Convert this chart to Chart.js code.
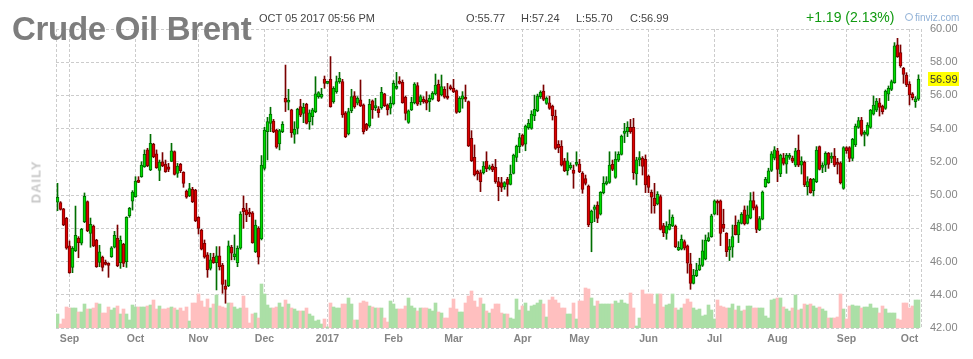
<!DOCTYPE html>
<html>
<head>
<meta charset="utf-8">
<title>Crude Oil Brent</title>
<script src="https://cdn.jsdelivr.net/npm/chart.js@4.4.0/dist/chart.umd.min.js"></script>
<style>
    body { margin: 0; background: #fff; }
    #wrap { position: relative; width: 973px; height: 359px; font-family: 'Liberation Sans', Arial, sans-serif; }
    #chart { position: absolute; left: 0; top: 0; }
    .lbl { position: absolute; white-space: nowrap; line-height: 1; z-index: 2; }
    .title { left: 12px; top: 11.5px; font-size: 33px; font-weight: bold; letter-spacing: -0.3px; color: #7d7d7d; line-height: 33px; }
    .info { top: 13px; font-size: 11px; color: #444; line-height: 11px; }
    .chg { left: 806px; top: 10px; font-size: 14px; color: #119a11; line-height: 14px; }
    .logo { left: 905px; top: 13px; font-size: 10px; color: #8fb0d6; line-height: 10px; }
    .logo span { display: inline-block; width: 6px; height: 6px; border: 1px solid #8fb0d6; border-radius: 50%; margin-right: 2px; vertical-align: 0px; }
    .daily { left: 36px; top: 182px; font-size: 13px; font-weight: bold; color: #c8c8c8; letter-spacing: 1px;
             transform: translate(-50%, -50%) rotate(-90deg); }
</style>
</head>
<body>
<div id="wrap">
    <canvas id="chart" width="973" height="359"></canvas>
    <div class="lbl title">Crude Oil Brent</div>
    <div class="lbl info" style="left:259px">OCT 05 2017 05:56 PM</div>
    <div class="lbl info" style="left:466px">O:55.77</div>
    <div class="lbl info" style="left:521px">H:57.24</div>
    <div class="lbl info" style="left:576px">L:55.70</div>
    <div class="lbl info" style="left:630px">C:56.99</div>
    <div class="lbl chg">+1.19 (2.13%)</div>
    <div class="lbl logo"><span></span>finviz.com</div>
    <div class="lbl daily">DAILY</div>
</div>
<script>
// daily candles, Aug 26 2016 .. Oct 05 2017 (one entry per session)
const opens = [
    49.57,49.55,49.18,48.60,46.94,45.65,46.66,47.40,47.10,48.40,49.61,47.70,
    48.14,47.30,45.95,46.27,45.95,45.85,46.29,46.86,47.40,45.93,47.04,45.99,
    48.76,49.63,49.91,50.91,51.11,51.71,52.72,51.51,53.06,52.48,51.49,52.01,
    51.87,51.71,52.03,52.62,51.31,51.85,51.37,50.25,49.95,50.35,50.31,48.66,
    47.90,47.10,46.40,45.59,46.26,45.93,46.34,45.79,44.53,44.55,46.86,46.30,
    45.93,46.80,49.21,49.11,48.96,48.94,46.60,48.00,47.36,51.61,53.82,54.32,
    54.46,53.92,53.08,53.82,55.83,55.59,55.13,53.66,54.02,55.33,54.92,55.47,
    54.42,54.72,55.03,55.93,55.89,56.99,56.73,56.97,55.63,56.23,56.83,56.83,
    54.96,53.68,55.09,55.97,55.53,55.73,55.43,54.26,54.16,55.67,55.27,55.19,
    55.27,56.09,55.43,55.23,55.49,56.43,56.87,56.79,55.89,54.38,55.13,55.57,
    56.59,55.63,55.77,55.73,55.63,55.77,56.09,56.67,56.03,56.37,55.89,56.49,
    56.43,56.29,55.03,55.77,55.89,55.63,53.42,52.28,51.45,51.35,51.35,52.05,
    51.57,51.75,51.67,50.81,50.75,50.51,50.95,50.65,51.31,52.27,52.91,53.62,
    53.07,54.06,54.02,54.76,55.08,55.92,56.27,55.52,55.56,55.36,54.76,53.05,
    52.95,52.07,51.47,51.65,51.51,51.85,51.87,51.31,50.99,50.55,48.34,49.14,
    49.40,48.86,50.15,50.67,50.77,51.85,51.07,52.11,52.45,53.72,53.82,54.08,
    54.08,51.28,52.12,52.22,52.16,51.15,50.17,49.81,49.47,49.91,48.16,47.70,
    47.94,48.14,48.14,46.70,46.74,47.20,46.94,45.86,44.69,45.15,45.49,45.76,
    46.14,47.26,47.50,48.85,49.57,49.65,48.24,47.70,46.70,46.86,48.18,47.60,
    48.30,49.11,48.30,48.61,49.67,49.31,47.90,48.55,50.51,50.75,51.48,52.22,
    52.66,51.27,52.25,51.87,52.27,52.23,51.81,52.71,51.81,51.97,50.51,50.95,
    50.27,50.81,52.92,51.67,51.81,52.51,52.21,52.35,51.97,51.95,50.41,52.86,
    52.86,52.21,53.02,54.08,54.52,53.66,53.66,54.08,54.88,55.12,55.56,55.36,
    55.22,56.07,56.37,56.77,59.04,58.58,57.63,57.23,56.69,56.09,55.62,55.77
];
const highs = [
    50.71,49.61,49.20,48.66,47.24,46.90,49.34,47.50,48.00,50.13,49.65,48.62,
    48.20,47.34,46.98,46.33,46.09,45.93,46.90,47.82,48.20,47.54,47.10,48.70,
    49.26,50.27,51.11,51.11,52.01,52.72,52.82,53.66,53.12,52.72,52.11,52.56,
    52.11,51.91,53.12,52.66,51.91,51.91,51.41,50.31,50.71,50.47,50.35,48.70,
    47.94,47.30,46.54,46.50,46.50,46.90,46.90,45.89,44.89,47.24,46.98,47.60,
    46.94,49.00,49.95,49.51,49.21,49.01,48.50,48.10,52.38,54.08,54.68,55.29,
    54.56,53.96,53.96,54.42,57.83,56.37,55.17,54.42,55.23,55.77,55.53,55.53,
    55.13,55.23,57.13,56.23,56.43,57.17,56.85,58.34,56.53,57.17,57.39,56.97,
    55.03,55.23,56.37,56.23,55.93,56.93,55.49,54.32,55.77,55.73,55.83,55.33,
    56.49,56.13,55.49,55.93,56.89,57.39,57.13,56.93,55.97,55.13,55.89,56.77,
    56.77,56.03,55.93,56.23,56.03,56.23,57.29,56.93,57.23,56.53,56.73,56.63,
    56.97,56.33,55.93,56.23,56.63,55.67,53.88,53.02,51.51,51.51,52.01,52.61,
    51.81,51.87,52.15,51.07,51.07,50.81,51.07,51.81,52.47,53.01,53.72,53.68,
    54.22,54.56,55.08,56.02,56.08,56.28,56.63,55.92,55.96,55.42,55.12,53.28,
    53.28,52.21,52.55,51.95,51.81,52.61,52.15,51.41,51.21,50.61,49.10,49.40,
    49.60,50.21,51.11,51.11,52.61,52.11,52.61,52.61,53.62,54.32,54.42,54.56,
    54.62,52.28,52.62,52.32,52.42,51.21,50.31,50.71,50.21,50.01,48.30,48.40,
    49.11,48.81,48.20,47.20,47.60,47.30,47.00,46.50,45.53,45.90,46.20,47.30,
    47.60,47.74,48.85,49.71,49.71,49.71,49.15,47.74,47.34,48.20,48.75,48.50,
    48.95,49.35,49.35,50.15,50.19,49.41,48.71,50.25,51.07,51.62,52.62,52.92,
    52.82,52.47,52.51,52.51,52.51,52.35,52.82,53.62,52.31,52.05,51.11,51.01,
    51.01,52.92,52.96,51.95,52.61,52.57,52.55,52.81,52.21,52.01,52.92,52.92,
    52.92,53.42,54.28,54.68,54.68,53.88,54.36,55.16,55.97,55.82,55.82,55.42,
    56.33,56.57,56.93,59.18,59.44,59.04,57.69,57.37,56.83,56.17,55.93,57.24
];
const lows = [
    49.06,49.10,48.16,46.74,45.29,45.33,46.60,46.23,47.00,48.34,47.80,46.86,
    46.90,45.65,45.69,45.43,45.79,45.05,46.25,46.82,45.69,45.59,45.69,45.65,
    48.66,49.10,49.87,50.75,51.07,51.67,51.71,51.47,52.25,51.61,50.87,51.71,
    51.37,51.41,52.01,51.21,51.07,51.35,50.47,49.81,49.91,49.55,48.40,47.66,
    46.70,46.20,45.05,45.49,45.89,44.29,45.49,44.09,43.49,44.49,46.10,46.10,
    45.69,46.74,48.00,48.40,48.70,47.10,46.54,45.85,47.30,51.51,52.12,53.82,
    53.76,52.82,52.72,53.76,55.03,55.13,53.48,53.12,53.68,54.72,54.36,54.28,
    53.96,54.22,54.96,55.83,55.83,56.43,56.70,55.29,55.53,56.13,56.73,54.68,
    53.46,53.62,54.96,55.23,55.43,55.33,53.68,53.88,54.08,54.62,55.09,54.68,
    55.17,55.33,54.82,54.88,55.43,56.37,56.69,55.53,54.52,54.32,55.09,55.49,
    55.39,55.43,55.53,55.13,55.03,55.73,56.03,55.63,55.97,55.83,55.77,56.33,
    56.17,54.92,54.96,55.23,55.63,52.92,52.02,51.15,50.91,50.21,51.27,51.41,
    51.51,51.41,50.71,49.66,50.21,50.35,49.94,50.61,51.27,52.01,52.55,52.95,
    52.67,53.96,53.96,54.48,55.02,55.82,55.68,55.46,55.16,54.52,52.75,52.55,
    51.75,51.41,51.21,51.55,50.41,51.75,51.35,50.11,50.61,48.10,46.59,48.40,
    48.34,48.80,50.07,50.61,50.71,51.47,51.01,52.01,52.41,53.16,53.52,53.72,
    50.95,50.61,51.76,51.21,50.15,50.15,48.91,48.91,49.41,47.90,47.50,47.34,
    47.90,48.10,46.84,46.66,46.70,46.70,45.30,44.33,44.65,45.09,45.46,45.70,
    46.10,47.20,47.46,48.81,48.81,46.96,47.80,46.30,46.06,46.26,47.60,47.14,
    48.26,48.20,48.26,48.57,49.11,47.74,47.86,48.51,50.47,50.71,51.42,52.12,
    50.81,51.11,51.81,51.31,52.15,51.95,51.71,51.71,51.27,50.51,50.01,50.11,
    49.95,50.75,51.51,51.35,51.41,51.61,51.95,51.71,51.27,50.67,50.35,52.51,
    52.01,52.07,52.92,54.02,53.56,52.96,53.56,54.02,54.82,55.02,54.76,54.88,
    55.16,55.69,56.29,56.73,58.29,57.69,56.73,56.53,55.43,55.73,55.28,55.70
];
const closes = [
    49.87,49.14,48.20,46.80,45.33,46.80,47.58,47.14,47.94,49.93,47.86,48.24,
    46.94,45.69,46.58,45.65,45.83,45.77,46.82,47.58,45.75,47.30,45.89,48.66,
    49.20,50.19,50.85,50.77,51.81,52.45,51.77,53.12,52.31,51.65,51.99,51.75,
    51.41,51.55,52.66,51.25,51.75,51.47,50.71,49.87,50.39,49.61,48.46,48.00,
    46.74,46.26,45.49,46.10,45.93,46.34,45.69,44.63,44.33,46.94,46.50,46.46,
    46.80,48.86,49.01,48.80,48.86,47.14,48.20,46.26,51.81,53.92,54.42,54.88,
    53.82,52.88,53.88,54.26,55.59,55.67,53.76,53.96,55.17,54.82,55.29,54.32,
    54.96,55.13,56.09,56.17,56.07,56.73,56.81,55.33,56.43,56.83,57.03,54.83,
    53.52,55.03,55.93,55.33,55.83,55.37,53.82,53.96,55.47,55.13,55.39,54.96,
    56.19,55.39,55.13,55.53,56.73,56.53,56.73,55.57,54.92,55.07,55.59,56.69,
    55.47,55.93,55.63,55.53,55.83,56.13,56.63,55.69,56.53,55.89,55.83,56.41,
    56.23,54.98,55.83,55.97,55.77,52.96,52.08,51.21,51.27,50.81,51.75,51.57,
    51.71,51.51,50.81,50.51,50.47,50.75,50.65,51.25,52.41,52.95,53.47,53.01,
    54.16,54.32,54.88,55.16,55.96,56.18,55.76,55.82,55.22,54.78,52.81,52.85,
    51.81,51.47,52.07,51.81,51.31,51.97,51.41,50.35,50.71,48.20,49.04,49.30,
    48.60,50.17,50.71,50.81,51.81,51.55,52.15,52.45,53.56,53.86,54.08,53.82,
    51.35,52.12,52.26,51.72,50.61,50.47,49.87,49.37,50.05,47.94,47.74,48.14,
    48.24,48.67,46.90,46.86,47.34,46.80,45.90,44.69,45.19,45.49,45.80,46.64,
    47.30,47.44,48.75,49.65,49.51,47.70,48.00,46.60,46.90,47.50,47.62,48.38,
    48.85,48.26,48.81,49.67,49.21,47.94,48.59,50.19,50.95,51.46,52.48,52.72,
    51.55,52.41,51.91,52.39,52.39,52.05,52.67,51.81,52.05,50.61,50.81,50.15,
    50.95,52.71,51.55,51.81,52.51,51.85,52.35,51.81,51.85,50.75,52.86,52.68,
    52.21,53.36,54.16,54.48,53.66,53.78,54.22,55.12,55.42,55.66,55.28,55.02,
    56.27,56.43,56.83,58.98,58.33,57.77,57.27,56.63,56.03,55.87,55.80,56.99
];
// volume, thousand contracts
const volumes = [
    140,40,90,210,200,200,200,160,160,240,190,190,
    200,250,240,150,150,210,180,200,220,140,190,140,
    80,230,210,210,210,210,220,230,280,190,220,190,
    190,200,210,200,180,200,170,210,70,250,250,340,
    270,210,290,200,240,330,220,210,200,250,250,210,
    190,200,320,200,50,140,150,100,440,340,230,200,
    200,210,250,210,280,240,200,190,170,170,170,200,
    140,120,70,80,40,90,10,250,210,200,200,240,
    240,300,240,80,80,250,270,260,220,210,200,200,
    200,100,60,270,240,190,190,190,220,300,220,200,
    170,200,200,200,190,170,250,160,150,100,100,200,
    290,190,160,160,250,320,370,270,210,300,240,170,
    150,190,240,240,150,140,140,100,90,290,180,220,
    250,170,220,230,250,280,240,110,280,310,280,250,
    200,200,140,140,250,90,270,270,400,390,300,220,
    270,240,240,240,240,240,270,250,280,250,240,350,
    200,20,100,380,340,340,340,240,340,340,210,230,
    240,340,200,180,200,240,290,260,200,180,190,120,
    130,230,180,90,280,220,210,200,200,240,180,220,
    170,180,220,220,200,200,200,200,120,100,280,290,
    300,300,210,190,170,200,330,180,190,240,230,240,
    220,200,210,190,170,100,100,100,110,340,190,90,
    220,230,220,220,200,210,210,240,200,200,150,220,
    190,150,150,150,90,80,250,250,200,220,280,280
];
// first session of each month and its axis label
const monthStarts = [4, 26, 47, 69, 90, 112, 132, 155, 174, 197, 219, 240, 263, 284];
const monthLabels = ['Sep', 'Oct', 'Nov', 'Dec', '2017', 'Feb', 'Mar', 'Apr', 'May', 'Jun', 'Jul', 'Aug', 'Sep', 'Oct'];
const priceTicks = [42, 44, 46, 48, 50, 52, 54, 56, 58, 60];

const xMin = -0.5, xMax = 287.8333;
const up = closes.map((c, i) => c >= opens[i]);

Chart.defaults.font.family = "'Liberation Sans', Arial, sans-serif";

// yellow tag with the last close on the price axis
const lastTag = {
    id: 'lastTag',
    afterDraw(chart) {
        const { ctx, chartArea } = chart;
        const v = closes[closes.length - 1];
        const py = Math.round(chart.scales.y.getPixelForValue(v));
        ctx.save();
        ctx.fillStyle = '#ffff00';
        ctx.fillRect(chartArea.right + 7, py - 7, 31, 14);
        ctx.fillStyle = '#333';
        ctx.font = "11px 'Liberation Sans', Arial, sans-serif";
        ctx.textBaseline = 'middle';
        ctx.fillText(v.toFixed(2), chartArea.right + 9, py + 0.5);
        ctx.restore();
    }
};

const ctx = document.getElementById('chart').getContext('2d');
new Chart(ctx, {
    type: 'bar',
    data: {
        datasets: [
            {
                label: 'Volume',
                yAxisID: 'yv',
                order: 3,
                grouped: false,
                data: volumes.map((v, i) => ({ x: i, y: v })),
                backgroundColor: up.map(u => u ? '#abdfa6' : '#ffbfbf'),
                borderWidth: 0,
                barThickness: 3
            },
            {
                label: 'Wick',
                yAxisID: 'y',
                order: 2,
                grouped: false,
                data: highs.map((h, i) => ({ x: i, y: [lows[i], h] })),
                backgroundColor: up.map(u => u ? '#006e00' : '#7a0000'),
                borderWidth: 0,
                barThickness: 1
            },
            {
                label: 'Body',
                yAxisID: 'y',
                order: 1,
                grouped: false,
                data: opens.map((o, i) => ({ x: i, y: [o, closes[i]] })),
                backgroundColor: up.map(u => u ? '#00dd00' : '#dd0000'),
                borderColor: up.map(u => u ? '#006e00' : '#7a0000'),
                borderWidth: 1,
                borderSkipped: false,
                barThickness: 3,
                minBarLength: 2
            }
        ]
    },
    options: {
        responsive: false,
        animation: false,
        layout: { padding: { left: 56, right: 0, top: 29, bottom: 0 } },
        plugins: {
            legend: { display: false },
            tooltip: { enabled: false }
        },
        scales: {
            x: {
                type: 'linear',
                min: xMin,
                max: xMax,
                offset: false,
                afterBuildTicks: s => {
                    s.ticks = [xMin, ...monthStarts, xMax].map(v => ({ value: v }));
                },
                afterFit: s => { s.height = 31; },
                ticks: {
                    autoSkip: false,
                    maxRotation: 0,
                    padding: 5,
                    color: '#858585',
                    font: { size: 10.5, weight: 'bold' },
                    callback: v => {
                        const k = monthStarts.indexOf(v);
                        return k < 0 ? '' : monthLabels[k];
                    }
                },
                grid: { color: '#cccccc', drawTicks: false, offset: false },
                border: { display: false, dash: [3, 2] }
            },
            y: {
                position: 'right',
                min: 42,
                max: 60,
                afterBuildTicks: s => {
                    s.ticks = priceTicks.map(v => ({ value: v }));
                },
                afterFit: s => { s.width = 52; },
                ticks: {
                    padding: 9,
                    color: '#858585',
                    font: { size: 11 },
                    callback: v => v.toFixed(2)
                },
                grid: { color: '#cccccc', drawTicks: false },
                border: { display: false, dash: [3, 2] }
            },
            yv: {
                display: false,
                min: 0,
                max: 2990
            }
        }
    },
    plugins: [lastTag]
});
</script>
</body>
</html>
